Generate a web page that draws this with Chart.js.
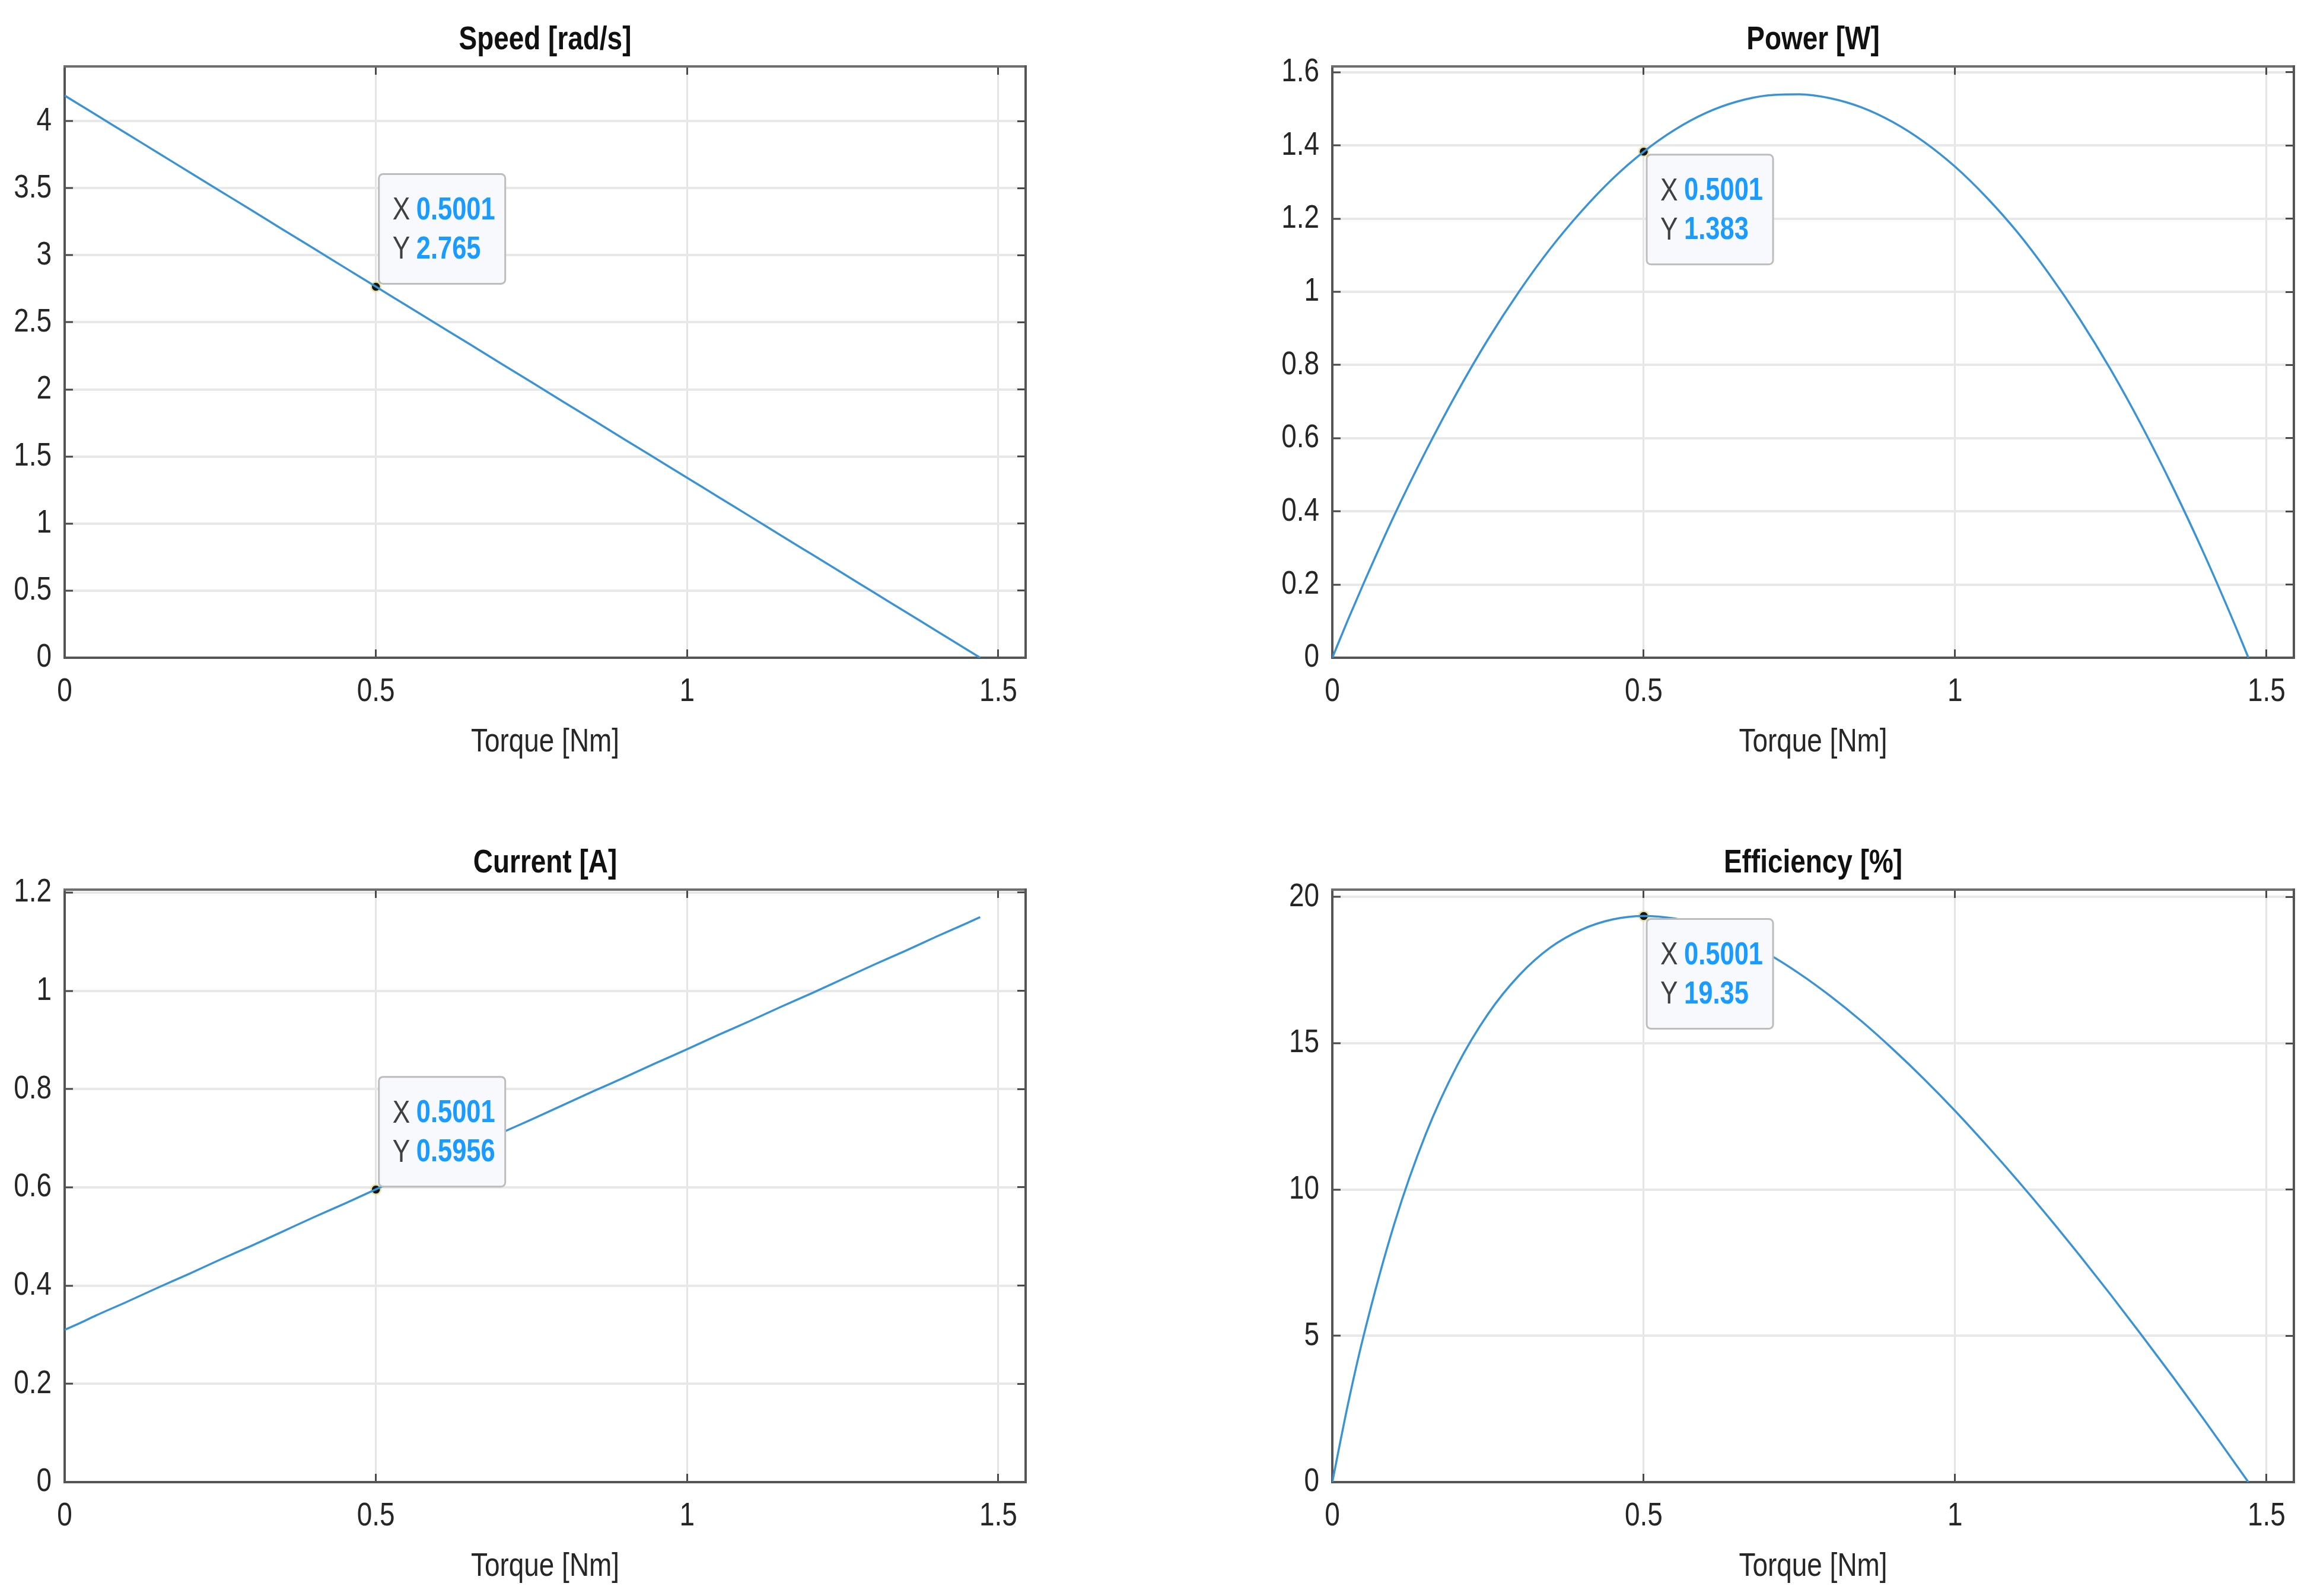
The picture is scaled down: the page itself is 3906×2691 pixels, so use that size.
<!DOCTYPE html>
<html>
<head>
<meta charset="utf-8">
<script src="https://cdn.jsdelivr.net/npm/chart.js@4.4.1/dist/chart.umd.min.js"></script>
<style>
  html, body { margin: 0; padding: 0; background: #fff; }
  #wrap { position: relative; width: 3906px; height: 2691px; background: #fff; }
  canvas { position: absolute; }
</style>
</head>
<body>
<div id="wrap">
  <canvas id="cSpeed"></canvas>
  <canvas id="cPower"></canvas>
  <canvas id="cCurrent"></canvas>
  <canvas id="cEff"></canvas>
</div>
<script>
// ---- data ----
const torque     = [0, 0.025, 0.05, 0.1, 0.15, 0.2, 0.25, 0.3, 0.35, 0.4, 0.45, 0.5, 0.55, 0.6, 0.65, 0.7, 0.75, 0.8, 0.85, 0.9, 0.95, 1.0, 1.05, 1.1, 1.15, 1.2, 1.25, 1.3, 1.35, 1.4, 1.45, 1.471];
const speed      = [4.19, 4.119, 4.048, 3.905, 3.763, 3.620, 3.478, 3.336, 3.193, 3.051, 2.908, 2.766, 2.623, 2.481, 2.339, 2.196, 2.054, 1.911, 1.769, 1.626, 1.484, 1.342, 1.199, 1.057, 0.914, 0.772, 0.630, 0.487, 0.345, 0.202, 0.060, 0];
const power      = [0, 0.103, 0.202, 0.391, 0.564, 0.724, 0.870, 1.001, 1.118, 1.220, 1.309, 1.383, 1.443, 1.489, 1.520, 1.537, 1.540, 1.529, 1.504, 1.464, 1.410, 1.342, 1.259, 1.163, 1.051, 0.926, 0.787, 0.633, 0.465, 0.283, 0.087, 0];
const current    = [0.310, 0.324, 0.339, 0.367, 0.396, 0.424, 0.453, 0.481, 0.510, 0.539, 0.567, 0.596, 0.624, 0.653, 0.681, 0.710, 0.738, 0.767, 0.796, 0.824, 0.853, 0.881, 0.910, 0.938, 0.967, 0.995, 1.024, 1.053, 1.081, 1.110, 1.138, 1.150];
const efficiency = [0, 2.65, 4.98, 8.86, 11.89, 14.22, 16.00, 17.32, 18.27, 18.88, 19.23, 19.35, 19.26, 19.01, 18.59, 18.05, 17.38, 16.61, 15.75, 14.80, 13.78, 12.69, 11.53, 10.32, 9.06, 7.75, 6.40, 5.01, 3.59, 2.13, 0.63, 0];

// data tips (X / Y)
const tipX = 0.5001;
const tipY = [2.765, 1.383, 0.5956, 19.35];
const tipYText = ['2.765', '1.383', '0.5956', '19.35'];

// tick labels
const xTicks       = [0, 0.5, 1, 1.5];
const speedTicks   = [0, 0.5, 1, 1.5, 2, 2.5, 3, 3.5, 4];
const powerTicks   = [0, 0.2, 0.4, 0.6, 0.8, 1, 1.2, 1.4, 1.6];
const currentTicks = [0, 0.2, 0.4, 0.6, 0.8, 1, 1.2];
const effTicks     = [0, 5, 10, 15, 20];

const titles = ['Speed [rad/s]', 'Power [W]', 'Current [A]', 'Efficiency [%]'];
const xLabel = 'Torque [Nm]';

// ---- layout ----
const FONT = "'Liberation Sans', Arial, sans-serif";
const X_MAX = 1.544;
const LINE_COLOR = '#3a93d4';

// no narrow font installed: squeeze Liberation Sans text horizontally (Arial Narrow look)
const NARROW = 0.82;
const _fillText = CanvasRenderingContext2D.prototype.fillText;
CanvasRenderingContext2D.prototype.fillText = function (text, x, y, maxWidth) {
  if (!this.font.includes('Liberation Sans')) {
    return maxWidth === undefined ? _fillText.call(this, text, x, y) : _fillText.call(this, text, x, y, maxWidth);
  }
  this.save();
  this.translate(x, y);
  this.scale(NARROW, 1);
  _fillText.call(this, text, 0, 0);
  this.restore();
};

const panels = [
  { id: 'cSpeed',   title: titles[0], y: speed,      ticks: speedTicks,   yMax: 4.407, tip: 0, below: false, canvas: [0, 0, 1953, 1345],    plot: [109, 112, 1729, 1109] },
  { id: 'cPower',   title: titles[1], y: power,      ticks: powerTicks,   yMax: 1.616, tip: 1, below: true,  canvas: [1953, 0, 1953, 1345], plot: [293, 112, 1914, 1109] },
  { id: 'cCurrent', title: titles[2], y: current,    ticks: currentTicks, yMax: 1.206, tip: 2, below: false, canvas: [0, 1345, 1953, 1346], plot: [109, 155, 1729, 1154] },
  { id: 'cEff',     title: titles[3], y: efficiency, ticks: effTicks,     yMax: 20.25, tip: 3, below: true,  canvas: [1953, 1345, 1953, 1346], plot: [293, 155, 1914, 1154] }
];

// ---- plugins ----
const titlePlugin = {
  id: 'axTitle',
  afterDraw(chart) {
    const o = chart.options.plugins.axTitle;
    const ctx = chart.ctx, a = chart.chartArea;
    ctx.save();
    ctx.font = 'bold 56px ' + FONT;
    ctx.fillStyle = '#111';
    ctx.textAlign = 'center';
    ctx.textBaseline = 'middle';
    ctx.fillText(o.text, (a.left + a.right) / 2, a.top - 44);
    ctx.restore();
  }
};

const tipPlugin = {
  id: 'dataTip',
  afterDatasetsDraw(chart) {
    const o = chart.options.plugins.dataTip;
    const ctx = chart.ctx;
    const px = chart.scales.x.getPixelForValue(o.x);
    const py = chart.scales.y.getPixelForValue(o.y);
    const w = 213, h = 185;
    const bx = px + 5;
    const by = o.below ? py + 5 : py - 5 - h;
    ctx.save();
    ctx.beginPath();
    ctx.roundRect(bx, by, w, h, 7);
    ctx.fillStyle = '#f8f9fd';
    ctx.fill();
    ctx.lineWidth = 3;
    ctx.strokeStyle = '#bdbdbd';
    ctx.stroke();
    ctx.textBaseline = 'middle';
    ctx.textAlign = 'left';
    ctx.font = '54px ' + FONT;
    ctx.fillStyle = '#404040';
    ctx.fillText('X', bx + 23, by + 62);
    ctx.fillText('Y', bx + 23, by + 128);
    ctx.font = 'bold 53px ' + FONT;
    ctx.fillStyle = '#1a9bff';
    ctx.fillText(o.xText, bx + 63, by + 62);
    ctx.fillText(o.yText, bx + 63, by + 128);
    ctx.restore();
  }
};

function setTicks(arr) {
  return function (scale) { scale.ticks = arr.map(v => ({ value: v })); };
}

function makeChart(p) {
  const [cx, cy, cw, ch] = p.canvas;
  const [pl, pt, pr, pb] = p.plot;
  const el = document.getElementById(p.id);
  el.width = cw; el.height = ch;
  el.style.left = cx + 'px'; el.style.top = cy + 'px';
  el.style.width = cw + 'px'; el.style.height = ch + 'px';

  const xAxisH = ch - pb;
  const tickFont = { family: FONT, size: 56 };
  const tickColor = '#262626';

  new Chart(el.getContext('2d'), {
    type: 'line',
    data: {
      datasets: [
        {
          data: torque.map((t, i) => ({ x: t, y: p.y[i] })),
          borderColor: LINE_COLOR,
          borderWidth: 3.5,
          pointRadius: 0,
          cubicInterpolationMode: 'monotone',
          fill: false
        },
        {
          data: [{ x: tipX, y: tipY[p.tip] }],
          showLine: false,
          pointRadius: 8,
          pointBackgroundColor: '#151515',
          pointBorderColor: '#e6e09c',
          pointBorderWidth: 2.5
        }
      ]
    },
    options: {
      responsive: false,
      animation: false,
      devicePixelRatio: 1,
      layout: { padding: { left: 0, top: pt, right: cw - pr, bottom: 0 } },
      plugins: {
        legend: { display: false },
        tooltip: { enabled: false },
        axTitle: { text: p.title },
        dataTip: { x: tipX, y: tipY[p.tip], xText: String(tipX), yText: tipYText[p.tip], below: p.below }
      },
      scales: {
        x: {
          type: 'linear', position: 'bottom', min: 0, max: X_MAX,
          afterBuildTicks: setTicks(xTicks),
          afterFit: s => { s.height = xAxisH; },
          ticks: { font: tickFont, color: tickColor, padding: 38, maxRotation: 0, callback: v => String(v) },
          grid: { color: '#e4e4e4', lineWidth: 3, drawTicks: true, tickLength: -14, tickColor: '#4a4a4a', tickWidth: 3 },
          border: { display: true, color: '#555', width: 4 },
          title: { display: true, text: xLabel, font: { family: FONT, size: 56 }, color: tickColor,
                   padding: { top: 0, bottom: xAxisH - 143 - 33.6 } }
        },
        y: {
          type: 'linear', position: 'left', min: 0, max: p.yMax,
          afterBuildTicks: setTicks(p.ticks),
          afterFit: s => { s.width = pl; },
          ticks: { font: tickFont, color: tickColor, padding: 36, callback: v => String(v) },
          grid: { color: '#e8e8e8', lineWidth: 4, drawTicks: true, tickLength: -14, tickColor: '#4a4a4a', tickWidth: 3 },
          border: { display: true, color: '#555', width: 4 }
        },
        xTop: {
          type: 'linear', position: 'top', min: 0, max: X_MAX,
          afterBuildTicks: setTicks(xTicks),
          afterFit: s => { s.height = 0; },
          ticks: { display: false },
          grid: { drawOnChartArea: false, drawTicks: true, tickLength: -14, tickColor: '#4a4a4a', tickWidth: 3 },
          border: { display: true, color: '#6e6e6e', width: 4 }
        },
        yRight: {
          type: 'linear', position: 'right', min: 0, max: p.yMax,
          afterBuildTicks: setTicks(p.ticks),
          afterFit: s => { s.width = 0; },
          ticks: { display: false },
          grid: { drawOnChartArea: false, drawTicks: true, tickLength: -14, tickColor: '#4a4a4a', tickWidth: 3 },
          border: { display: true, color: '#555', width: 4 }
        }
      }
    },
    plugins: [titlePlugin, tipPlugin]
  });
}

panels.forEach(makeChart);
</script>
</body>
</html>
